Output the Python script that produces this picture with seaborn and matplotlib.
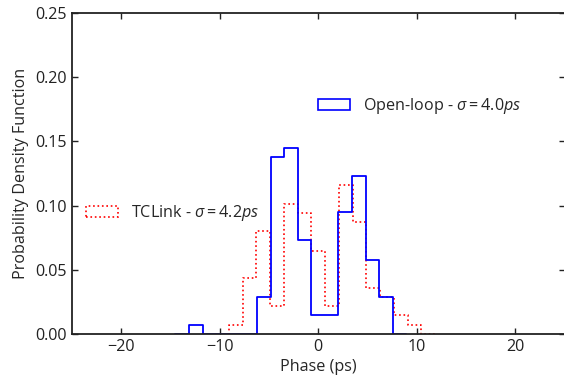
import numpy as np
import pandas as pd
import matplotlib
matplotlib.use("Agg")
import matplotlib.pyplot as plt
import seaborn as sns
from matplotlib.patches import Patch

# ---- data ----
open_loop_edges = np.linspace(-13.13, 7.57, 16)
open_loop_pdf = [0.0072, 0.0, 0.0, 0.0, 0.0, 0.029, 0.138, 0.145, 0.073,
                 0.0145, 0.0145, 0.095, 0.123, 0.058, 0.029]
tclink_edges = np.linspace(-9.06, 10.45, 15)
tclink_pdf = [0.0072, 0.044, 0.080, 0.022, 0.101, 0.094, 0.065, 0.022,
              0.116, 0.087, 0.036, 0.029, 0.0145, 0.0072]
open_loop_label = r"Open-loop - $\sigma = 4.0ps$"
tclink_label = r"TCLink - $\sigma = 4.2ps$"
x_label = "Phase (ps)"
y_label = "Probability Density Function"

FS = 11.6
sns.set_style("ticks")
plt.rcParams["font.family"] = ["Open Sans", "DejaVu Sans"]
plt.rcParams["mathtext.fontset"] = "custom"
plt.rcParams["mathtext.rm"] = "Open Sans"
plt.rcParams["mathtext.it"] = "Open Sans:italic"
plt.rcParams["font.size"] = FS

fig = plt.figure(figsize=(5.64, 3.79), dpi=100)
ax = fig.add_axes([72 / 564, 45 / 379, 492.6 / 564, 321 / 379])


def hist_frame(edges, pdf):
    # one empty bin on each side so the outline drops to zero at the ends
    e = np.asarray(edges, dtype=float)
    w = e[1] - e[0]
    e = np.concatenate([[e[0] - w], e, [e[-1] + w]])
    c = (e[:-1] + e[1:]) / 2
    h = np.concatenate([[0.0], np.asarray(pdf, dtype=float), [0.0]])
    return pd.DataFrame({"x": c, "w": h}), list(e)


tc_df, tc_bins = hist_frame(tclink_edges, tclink_pdf)
ol_df, ol_bins = hist_frame(open_loop_edges, open_loop_pdf)

sns.histplot(data=tc_df, x="x", weights="w", bins=tc_bins, element="step",
             fill=False, color="red", linestyle=":", linewidth=1.2, ax=ax,
             zorder=1)
sns.histplot(data=ol_df, x="x", weights="w", bins=ol_bins, element="step",
             fill=False, color="blue", linewidth=1.3, ax=ax, zorder=1)

ax.set_xlim(-25, 25)
ax.set_ylim(0, 0.25)
ax.set_xticks([-20, -10, 0, 10, 20])
ax.set_yticks([0, 0.05, 0.10, 0.15, 0.20, 0.25])
ax.set_yticklabels(["0.00", "0.05", "0.10", "0.15", "0.20", "0.25"])
ax.set_xlabel(x_label, fontsize=FS, labelpad=3)
ax.set_ylabel(y_label, fontsize=FS, labelpad=5)
ax.tick_params(direction="in", top=True, right=True, labelsize=FS,
               length=4, width=1, colors="#222222", labelcolor="#222222")
for s in ax.spines.values():
    s.set_linewidth(1.3)
    s.set_color("#222222")
    s.set_zorder(5)

h1 = Patch(facecolor="none", edgecolor="blue", linewidth=1.2)
h2 = Patch(facecolor="none", edgecolor="red", linestyle=":", linewidth=1.2)
leg1 = ax.legend([h1], [open_loop_label], loc="center left",
                 bbox_to_anchor=(0.4994, 0.710), frameon=False,
                 borderpad=0, borderaxespad=0, fontsize=FS)
ax.add_artist(leg1)
ax.legend([h2], [tclink_label], loc="center left",
          bbox_to_anchor=(0.0284, 0.377), frameon=False,
          borderpad=0, borderaxespad=0, fontsize=FS)

fig.savefig("out.png", dpi=100)
